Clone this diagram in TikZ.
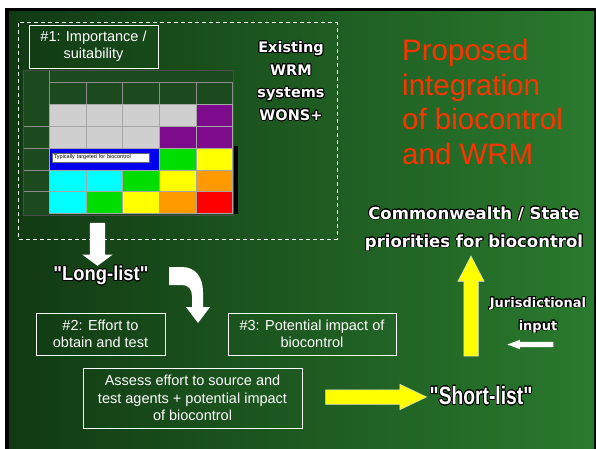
\documentclass[tikz,border=0pt]{standalone}
\usepackage{fontspec}
\setmainfont{Liberation Sans}
\newfontfamily\outfont{DejaVu Sans}
\newfontfamily\listfont[Ligatures=TeXOff]{Liberation Sans}
\usepackage{contour}
\contourlength{0.8pt}
\contournumber{24}
\usetikzlibrary{shapes.arrows}

\definecolor{bgdark}{HTML}{113A13}
\definecolor{bgmid}{HTML}{22662A}
\definecolor{bglight}{HTML}{2A7A2E}
\definecolor{hdr}{HTML}{1C4A1E}
\definecolor{titlered}{HTML}{FF3300}
\definecolor{cgray}{HTML}{CFCFCF}
\definecolor{cpurple}{HTML}{7E0B8C}
\definecolor{cblue}{HTML}{0000EE}
\definecolor{cgreen}{HTML}{00DD00}
\definecolor{cyellow}{HTML}{FFFF00}
\definecolor{ccyan}{HTML}{00FFFF}
\definecolor{corange}{HTML}{FF9900}
\definecolor{cred}{HTML}{FF0000}

\newcommand{\outl}[1]{\contour{black}{#1}}

\begin{document}
\begin{tikzpicture}[x=1pt,y=-1pt,
    box/.style={draw=white, line width=0.8pt, text=white, align=center,
      inner sep=0pt, font=\fontsize{14.5}{17.5}\selectfont},
    outtext/.style={text=white, align=center, inner sep=0pt},
    bigarrow/.style={single arrow, inner xsep=0pt, single arrow head indent=0pt},
    yellowarrow/.style={bigarrow, fill=cyellow, draw=black!15, line width=0.5pt}]
    \useasboundingbox (0,0) rectangle (596,449);
    % background
    \fill[white] (0,0) rectangle (596,449);
    \fill[black] (5,8) rectangle (596,449);
    \shade[left color=bgdark, middle color=bgmid, right color=bglight] (9,12) rectangle (594,449);

    % table of existing WRM systems
    \fill[hdr] (23,70) rectangle (233,104.3);
    \fill[hdr] (23,104.3) rectangle (49.3,215);
    \fill[black] (233,146) rectangle (238,214);
    \foreach \r/\cols in {1/{cgray,cgray,cgray,cgray,cpurple},
                          2/{cgray,cgray,cgray,cpurple,cpurple},
                          3/{cblue,cblue,cblue,cgreen,cyellow},
                          4/{ccyan,ccyan,cgreen,cyellow,corange},
                          5/{ccyan,cgreen,cyellow,corange,cred}}
      \foreach \cc [count=\k] in \cols
        \filldraw[fill=\cc, draw=black!35, line width=0.4pt]
          ({49.3+36.64*(\k-1)},{104.3+21.8*(\r-1)}) rectangle +(36.64,21.8);
    \filldraw[fill=cblue, draw=black!35, line width=0.4pt] (49.3,147.9) rectangle (159.2,169.7);
    \node[draw=black!60, fill=white, text=black, anchor=west, inner xsep=2pt, inner ysep=0pt,
      text width=93pt, minimum height=9pt, align=left, font=\fontsize{5.5}{6}\selectfont]
      (typical) at (51.7,157.5) {Typically targeted for biocontrol};
    \draw[black!45, line width=0.4pt] (49.3,82) -- (233,82);
    \foreach \k in {0,...,5}
      \draw[black!45, line width=0.4pt] ({49.3+36.64*\k},82) -- ({49.3+36.64*\k},104.3);
    \foreach \r in {1,...,4}
      \draw[black!45, line width=0.4pt] (23,{104.3+21.8*\r}) -- (49.3,{104.3+21.8*\r});
    \draw[black!45, line width=0.4pt] (49.3,70) -- (49.3,104.3);
    \draw[black!70, line width=0.8pt] (23,70) rectangle (233,215);

    \draw[white, line width=1pt, dash pattern=on 4pt off 3pt] (18,23) rectangle (337,239);

    \node[box, minimum width=129pt, minimum height=43pt] (imp) at (93.5,46.5) {\#1: Importance /\\suitability};
    \node[outtext, font=\outfont\bfseries\fontsize{14.5}{22.5}\selectfont] (wons) at (291,81.5)
      {\outl{Existing}\\\outl{WRM}\\\outl{systems}\\\outl{WONS+}};
    \node[anchor=north west, inner sep=0pt, align=left, text=titlered,
      font=\fontsize{29.5}{34.5}\selectfont] (title) at (402,39)
      {Proposed\\integration\\of biocontrol\\and WRM};
    \node[outtext, font=\outfont\bfseries\fontsize{16.5}{28}\selectfont] (priorities) at (474,229)
      {\outl{Commonwealth / State}\\\outl{priorities for biocontrol}};

    \node[outtext, font=\listfont\bfseries\fontsize{20}{24}\selectfont] (long) at (101,276)
      {\scalebox{0.92}[1]{\outl{"Long-list"}}};
    \node[box, minimum width=129pt, minimum height=42pt] (effort) at (100.5,334) {\#2: Effort to\\obtain and test};
    \node[box, minimum width=168pt, minimum height=42pt] (impact) at (312,334) {\#3: Potential impact of\\biocontrol};
    \node[box, minimum width=219pt, minimum height=60pt] (assess) at (192.5,398)
      {Assess effort to source and\\test agents + potential impact\\of biocontrol};
    \node[outtext, font=\listfont\bfseries\fontsize{25}{30}\selectfont] (short) at (481,396)
      {\scalebox{0.77}[1]{\outl{"Short-list"}}};
    \node[outtext, font=\outfont\bfseries\fontsize{13}{23}\selectfont] (juris) at (538,315.5)
      {\outl{Jurisdictional}\\\outl{input}};

    % arrows
    \node[bigarrow, fill=white, inner ysep=7.5pt, single arrow head extend=7.5pt,
      single arrow tip angle=107, minimum height=43pt, rotate=-90] (down) at (97.5,241.5) {};
    \fill[white] (169,267) -- (182,267) .. controls (196,267) and (203,278) .. (203,292)
      -- (203,307) -- (210,307) -- (198,323) -- (186,307) -- (192,307) -- (192,296)
      .. controls (192,289) and (188,285) .. (182,285) -- (169,285) -- cycle;
    \node[yellowarrow, inner ysep=7pt, single arrow head extend=5.5pt,
      single arrow tip angle=51, minimum height=101pt] (toshort) at (368.5,397) {};
    \node[yellowarrow, inner ysep=7pt, single arrow head extend=6pt,
      single arrow tip angle=55, minimum height=100pt, rotate=90] (up) at (471,313) {};
    \node[bigarrow, fill=white, inner ysep=2.5pt, single arrow head extend=2pt,
      single arrow tip angle=41, minimum height=46pt, rotate=180] (input) at (534,344.5) {};
\end{tikzpicture}
\end{document}
